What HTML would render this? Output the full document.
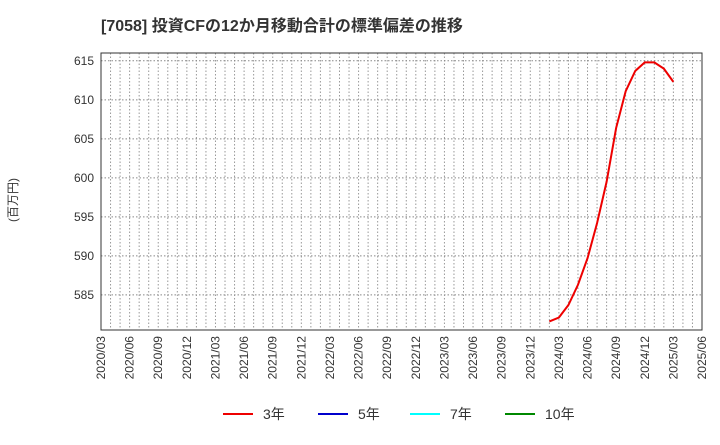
<!DOCTYPE html>
<html><head><meta charset="utf-8"><style>
body{margin:0;background:#fff;}
svg text{font-family:"Liberation Sans","Noto Sans CJK JP",sans-serif;}
</style></head><body>
<svg id="chart" width="720" height="440" xmlns="http://www.w3.org/2000/svg">
<text x="101" y="31" font-size="16" font-weight="bold" fill="#333">[7058]  投資CFの12か月移動合計の標準偏差の推移</text>
<text transform="translate(17,200) rotate(-90)" font-size="12" fill="#333" text-anchor="middle">(百万円)</text>
<g id="grid"></g>
<g id="xlabels"></g>
<g id="ylabels"></g>
<rect x="101" y="53" width="601" height="277" fill="none" stroke="#333" stroke-width="1"/>
<g id="series"></g>
<g>
<line x1="223" y1="414" x2="253" y2="414" stroke="#e00" stroke-width="2"/>
<text x="263" y="419" font-size="14" fill="#333">3年</text>
<line x1="318" y1="414" x2="348" y2="414" stroke="#00c" stroke-width="2"/>
<text x="358" y="419" font-size="14" fill="#333">5年</text>
<line x1="410" y1="414" x2="440" y2="414" stroke="#0ff" stroke-width="2"/>
<text x="450" y="419" font-size="14" fill="#333">7年</text>
<line x1="505" y1="414" x2="535" y2="414" stroke="#080" stroke-width="2"/>
<text x="545" y="419" font-size="14" fill="#333">10年</text>
</g>
</svg>
<script>
const xTickLabels = ["2020/03","2020/06","2020/09","2020/12","2021/03","2021/06","2021/09","2021/12","2022/03","2022/06","2022/09","2022/12","2023/03","2023/06","2023/09","2023/12","2024/03","2024/06","2024/09","2024/12","2025/03","2025/06"];
const yTicks = [585,590,595,600,605,610,615];
const months3y = ["2024/02","2024/03","2024/04","2024/05","2024/06","2024/07","2024/08","2024/09","2024/10","2024/11","2024/12","2025/01","2025/02","2025/03"];
const values3y = [581.6,582.1,583.7,586.3,589.7,594.2,599.5,606.4,611.1,613.7,614.8,614.8,614.0,612.3];

const NS="http://www.w3.org/2000/svg";
const X0=101,X1=702,Y0=53,Y1=330,V0=580.5,V1=616;
function mIdx(s){const [y,m]=s.split('/').map(Number);return (y-2020)*12+(m-3);}
const totalM=mIdx("2025/06");
function xs(s){return X0+mIdx(s)/totalM*(X1-X0);}
function ys(v){return Y1-(v-V0)/(V1-V0)*(Y1-Y0);}
const grid=document.getElementById('grid');
for(let i=0;i<=totalM;i++){
  const x=X0+i/totalM*(X1-X0);
  const l=document.createElementNS(NS,'line');
  l.setAttribute('x1',x);l.setAttribute('x2',x);l.setAttribute('y1',Y0);l.setAttribute('y2',Y1);
  l.setAttribute('stroke','#999');l.setAttribute('stroke-dasharray','1.5,2');
  
  
  grid.appendChild(l);
}
yTicks.forEach(v=>{
  const y=ys(v);
  const l=document.createElementNS(NS,'line');
  l.setAttribute('x1',X0);l.setAttribute('x2',X1);l.setAttribute('y1',y);l.setAttribute('y2',y);
  l.setAttribute('stroke','#888');l.setAttribute('stroke-dasharray','1.5,2');
  
  
  grid.appendChild(l);
  const t=document.createElementNS(NS,'text');
  t.setAttribute('x',94);t.setAttribute('y',y+4);t.setAttribute('text-anchor','end');
  t.setAttribute('font-size','12');t.setAttribute('fill','#333');t.textContent=v;
  
  
  document.getElementById('ylabels').appendChild(t);
});
xTickLabels.forEach(s=>{
  const x=xs(s);
  const t=document.createElementNS(NS,'text');
  t.setAttribute('transform',`translate(${x+4},336) rotate(-90)`);
  t.setAttribute('text-anchor','end');t.setAttribute('font-size','12');t.setAttribute('fill','#333');
  t.textContent=s;
  
  
  document.getElementById('xlabels').appendChild(t);
});
const p=document.createElementNS(NS,'polyline');
p.setAttribute('points',months3y.map((m,i)=>xs(m)+','+ys(values3y[i])).join(' '));
p.setAttribute('fill','none');p.setAttribute('stroke','#e00');p.setAttribute('stroke-width','2');


document.getElementById('series').appendChild(p);
</script>
</body></html>
